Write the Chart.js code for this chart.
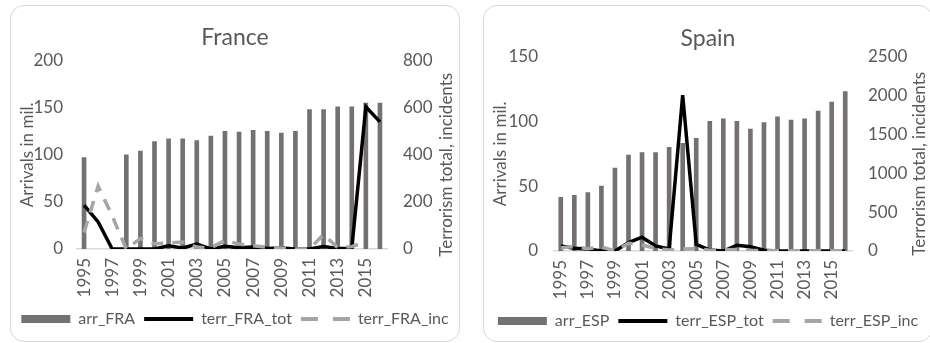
<!DOCTYPE html>
<html>
<head>
<meta charset="utf-8">
<script src="https://cdn.jsdelivr.net/npm/chart.js@4.4.0/dist/chart.umd.min.js"></script>
<style>
  body { margin: 0; background: #fff; width: 930px; height: 343px; overflow: hidden; position: relative; }
  .panel { position: absolute; top: 5px; width: 448px; height: 335px; border: 1px solid #d9d9d9; border-radius: 14px; background: #fff; }
  .panel canvas { position: absolute; left: -1px; top: -1px; }
</style>
</head>
<body>
<div class="panel" style="left:10px"><canvas id="chartFRA" width="450" height="337"></canvas></div>
<div class="panel" style="left:483px"><canvas id="chartESP" width="450" height="337"></canvas></div>

<script>
// years on the x axis
const years = ['1995', '1996', '1997', '1998', '1999', '2000', '2001', '2002', '2003', '2004', '2005',
               '2006', '2007', '2008', '2009', '2010', '2011', '2012', '2013', '2014', '2015', '2016'];

// France
const arrFRA = [97, null, null, 100, 104, 114, 117, 117, 115, 120, 125, 124, 126, 125, 123, 125, 148, 148, 151, 151, 155, 155];
const terrFRAtot = [186, 115, 0, 0, 0, 0, 14, 4, 21, 0, 12, 5, 8, 2, 4, 0, 0, 11, 2, 3, 604, 540];
const terrFRAinc = [70, 267, 140, 0, 45, 22, 26, 30, 8, 5, 36, 21, 14, 7, 4, 0, 0, 62, 5, 10, 31, null];

// Spain
const arrESP = [41.5, 43, 45, 50, 64, 74, 76, 76, 80, 83, 87, 100, 102, 100, 94, 99, 103.5, 101, 102, 108, 115, 123];
const terrESPtot = [65, 35, 26, 0, 0, 108, 178, 65, 26, 2005, 86, 13, 0, 73, 56, 9, 0, 0, 0, 0, 0, 0];
const terrESPinc = [43, 56, 30, 52, 0, 100, 78, 35, 13, 25, 30, 10, 15, 20, 10, 5, 4, 4, 4, 4, 4, 4];

const textColor = '#595959';
const fontFamily = 'Lato, "Open Sans", sans-serif';
const fontSize = 17;

// right axis title reads bottom-to-top in the original, chart.js turns it the other way
const rightTitle = {
    id: 'rightTitle',
    afterDraw(chart, args, opts) {
        const { ctx, chartArea } = chart;
        ctx.save();
        ctx.translate(opts.x, (chartArea.top + chartArea.bottom) / 2 + opts.dy);
        ctx.rotate(-Math.PI / 2);
        ctx.font = fontSize + 'px ' + fontFamily;
        ctx.fillStyle = textColor;
        ctx.textAlign = 'center';
        ctx.textBaseline = 'middle';
        ctx.fillText(opts.text, 0, 0);
        ctx.restore();
    }
};

function legendLabels(chart) {
    const items = Chart.defaults.plugins.legend.labels.generateLabels(chart);
    items.sort((a, b) => a.datasetIndex - b.datasetIndex);
    items.forEach(item => {
        if (item.datasetIndex === 0) {
            item.pointStyle = 'rect';
        } else {
            item.pointStyle = 'line';
            item.lineWidth = 4;
            if (item.datasetIndex === 2) item.lineDash = [17, 15];
        }
    });
    return items;
}

function makeChart(id, c) {
    const ctx = document.getElementById(id).getContext('2d');
    return new Chart(ctx, {
        type: 'bar',
        data: {
            labels: years,
            datasets: [
                { type: 'bar', label: c.names[0], data: c.arr, yAxisID: 'y', backgroundColor: '#767171', barThickness: 4, order: 3 },
                { type: 'line', label: c.names[1], data: c.tot, yAxisID: 'y2', borderColor: '#000000', backgroundColor: '#000000',
                  borderWidth: 3.5, pointRadius: 0, tension: 0, fill: false, order: 2 },
                { type: 'line', label: c.names[2], data: c.inc, yAxisID: 'y2', borderColor: '#a5a5a5', backgroundColor: '#a5a5a5',
                  borderWidth: 3.5, borderDash: [12, 9], pointRadius: 0, tension: 0, fill: false, order: 1 }
            ]
        },
        options: {
            responsive: false,
            animation: false,
            layout: { padding: { left: 0, right: 0, top: 0, bottom: c.padBottom } },
            scales: {
                x: {
                    offset: true,
                    grid: { display: false, drawTicks: false },
                    border: { display: true, color: '#d9d9d9', width: 1.5 },
                    ticks: {
                        autoSkip: false, maxRotation: 90, minRotation: 90, padding: 9,
                        color: textColor, font: { family: fontFamily, size: fontSize },
                        callback: (v, i) => i % 2 ? '' : years[i]
                    },
                    afterFit: s => { s.height = 53; }
                },
                y: {
                    position: 'left', min: 0, max: c.leftMax,
                    grid: { display: false, drawTicks: false },
                    border: { display: false },
                    ticks: { stepSize: c.leftStep, padding: c.leftPad, color: textColor, font: { family: fontFamily, size: fontSize },
                             callback: v => String(v) },
                    title: { display: true, text: 'Arrivals in mil.', color: textColor, font: { family: fontFamily, size: fontSize }, padding: { top: 7, bottom: 0 } },
                    afterFit: s => { s.width = c.left; }
                },
                y2: {
                    position: 'right', min: 0, max: c.rightMax,
                    grid: { display: false, drawTicks: false },
                    border: { display: false },
                    ticks: { stepSize: c.rightStep, padding: c.rightPad, color: textColor, font: { family: fontFamily, size: fontSize },
                             callback: v => String(v) },
                    afterFit: s => { s.width = c.right; }
                }
            },
            plugins: {
                title: {
                    display: true, text: c.title, color: textColor,
                    font: { family: fontFamily, size: 23, weight: 'normal' },
                    padding: { top: c.titleTop, bottom: c.titleBottom }
                },
                legend: {
                    position: 'bottom',
                    labels: {
                        usePointStyle: true, pointStyleWidth: 49, boxHeight: 8, padding: 9,
                        color: textColor, font: { family: fontFamily, size: 16 },
                        generateLabels: legendLabels
                    }
                },
                tooltip: { enabled: false },
                rightTitle: { text: 'Terrorism total, incidents', x: c.rightTitleX, dy: 10 }
            }
        },
        plugins: [rightTitle]
    });
}

makeChart('chartFRA', {
    title: 'France', names: ['arr_FRA', 'terr_FRA_tot', 'terr_FRA_inc'],
    arr: arrFRA, tot: terrFRAtot, inc: terrFRAinc,
    leftMax: 200, leftStep: 50, rightMax: 800, rightStep: 200,
    left: 67, right: 73, leftPad: 14, rightPad: 16,
    titleTop: 19, titleBottom: 9, padBottom: 5, rightTitleX: 437
});

makeChart('chartESP', {
    title: 'Spain', names: ['arr_ESP', 'terr_ESP_tot', 'terr_ESP_inc'],
    arr: arrESP, tot: terrESPtot, inc: terrESPinc,
    leftMax: 150, leftStep: 50, rightMax: 2500, rightStep: 500,
    left: 71, right: 81, leftPad: 16, rightPad: 16,
    titleTop: 20, titleBottom: 4, padBottom: 3, rightTitleX: 437
});
</script>
</body>
</html>
